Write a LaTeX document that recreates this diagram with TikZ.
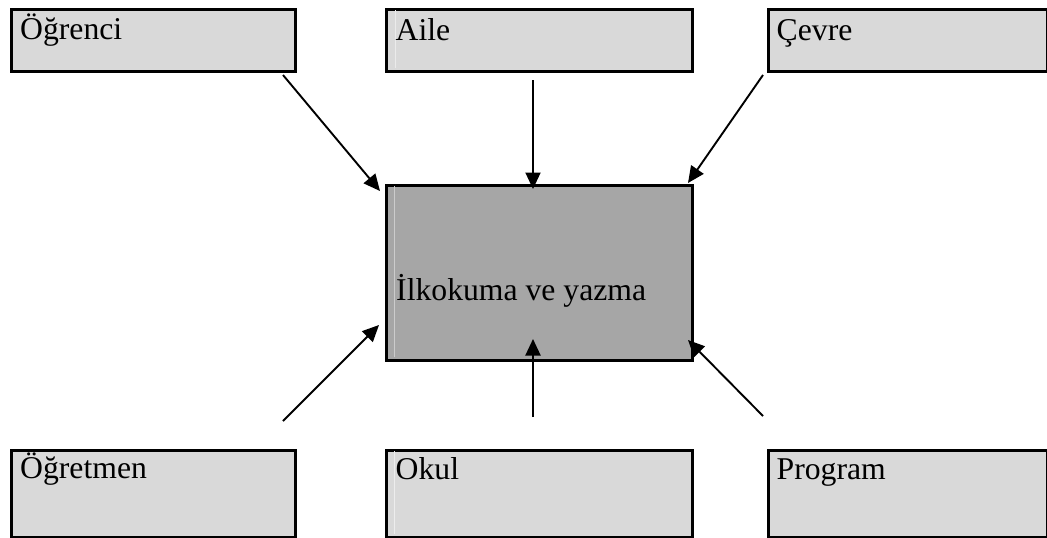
\documentclass[tikz,border=0pt]{standalone}
\usepackage{fontspec}
\setmainfont{Liberation Serif}
\usetikzlibrary{arrows.meta}
\definecolor{boxgray}{HTML}{D9D9D9}
\definecolor{centergray}{HTML}{A6A6A6}
\tikzset{
  box/.style={draw=black, line width=3pt, fill=boxgray, rectangle, inner sep=0pt, anchor=north west},
  centerbox/.style={box, fill=centergray},
  lbl/.style={anchor=base west, inner sep=0pt, font=\fontsize{31.7}{38}\selectfont, text=black},
  conn/.style={line width=1.9pt, -{Triangle[length=16.5pt,width=15pt]}},
  seam/.style={line width=0.8pt}
}
\begin{document}
\begin{tikzpicture}[x=1pt,y=-1pt]
\useasboundingbox (0,0) rectangle (1047,538);
% boxes
\node[box, minimum width=284, minimum height=62] (ogrenci) at (10,8) {};
\node[box, minimum width=306, minimum height=62] (aile) at (385,8) {};
\node[box, minimum width=279, minimum height=62] (cevre) at (767,8) {};
\node[centerbox, minimum width=306, minimum height=175] (center) at (385,184) {};
\node[box, minimum width=284, minimum height=87] (ogretmen) at (10,449) {};
\node[box, minimum width=306, minimum height=87] (okul) at (385,449) {};
\node[box, minimum width=279, minimum height=87] (program) at (767,449) {};
% light seams
\draw[seam, draw=white!92!black] (395,10) -- (395,68);
\draw[seam, draw=white!80!black] (394.5,186) -- (394.5,357);
\draw[seam, draw=white!93!black] (394.5,451) -- (394.5,534);
% labels
\node[lbl] (tOgrenci) at (20,39.5) {Öğrenci};
\node[lbl] (tAile) at (395.5,40) {Aile};
\node[lbl] (tCevre) at (776.5,40) {Çevre};
\node[lbl] (tCenter) at (396,300.5) {İlkokuma ve yazma};
\node[lbl] (tOgretmen) at (20,478.5) {Öğretmen};
\node[lbl] (tOkul) at (395.5,479) {Okul};
\node[lbl] (tProgram) at (776.5,479) {Program};
% connector end points
\coordinate (s1) at (283,75);  \coordinate (e1) at (380,191);
\coordinate (s2) at (533,80);  \coordinate (e2) at (533,189);
\coordinate (s3) at (763,75);  \coordinate (e3) at (688,183);
\coordinate (s4) at (283,421); \coordinate (e4) at (379,325);
\coordinate (s5) at (533,417); \coordinate (e5) at (533,339);
\coordinate (s6) at (763,416); \coordinate (e6) at (688,340);
\draw[conn] (s1) -- (e1);
\draw[conn] (s2) -- (e2);
\draw[conn] (s3) -- (e3);
\draw[conn] (s4) -- (e4);
\draw[conn] (s5) -- (e5);
\draw[conn] (s6) -- (e6);
\end{tikzpicture}
\end{document}
